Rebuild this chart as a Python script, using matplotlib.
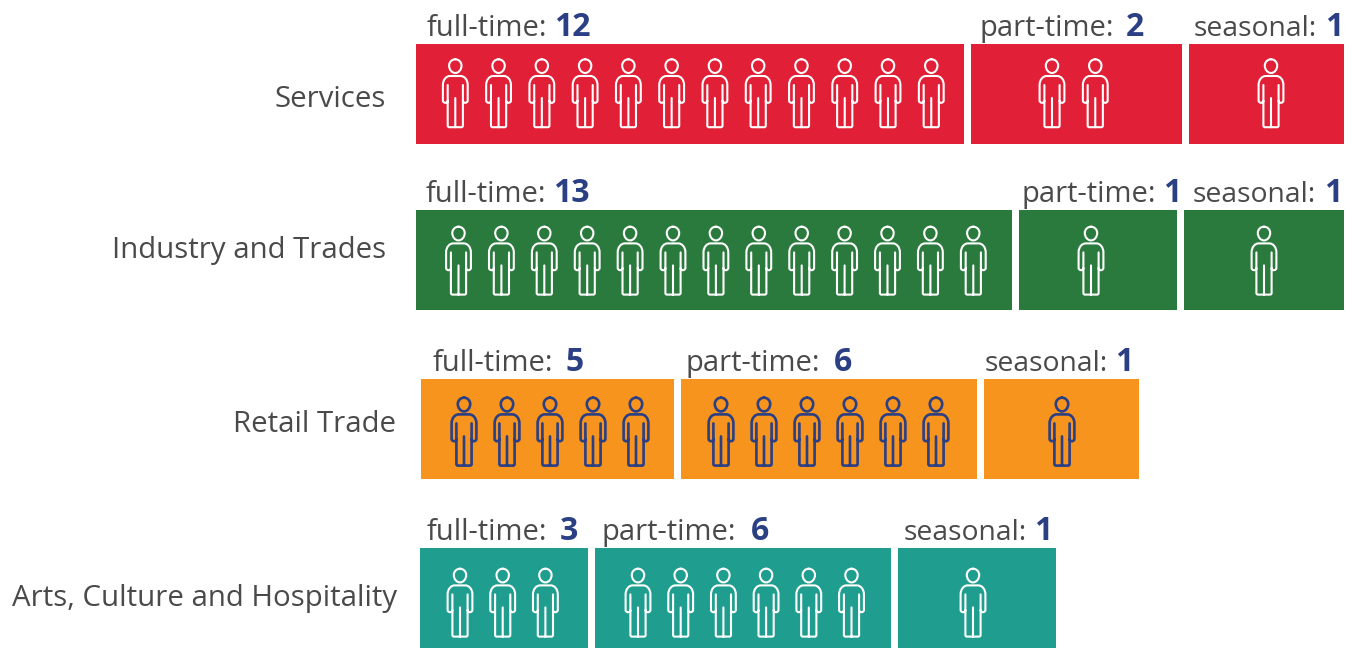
import matplotlib
matplotlib.use("Agg")
import matplotlib.pyplot as plt
from matplotlib.path import Path
from matplotlib.patches import PathPatch, Rectangle
from matplotlib.transforms import Affine2D

# ---- data ----
categories = ["Services", "Industry and Trades", "Retail Trade", "Arts, Culture and Hospitality"]
segments = ["full-time", "part-time", "seasonal"]
full_time = [12, 13, 5, 3]
part_time = [2, 1, 6, 6]
seasonal = [1, 1, 1, 1]

# ---- layout (pixels) ----
bar_lefts = [[416, 971, 1189], [416, 1019, 1184], [421, 681, 984], [420, 595, 898]]
bar_rights = [[964, 1182, 1344], [1012, 1177, 1344], [674, 977, 1139], [588, 891, 1056]]
bar_tops = [44, 210, 379, 548]
first_person = [[455.3, 1052, 1271], [458.5, 1091, 1264], [464, 721, 1062], [460, 638, 973]]
person_step = [43.27, 42.9, 43.0, 42.7]
person_dy = [0, 1.4, 3.4, 5.4]
person_lw = [1.5, 1.5, 1.9, 1.5]
label_x = [[427, 979, 1194], [426, 1022, 1193], [433, 685, 985], [427, 602, 904]]
number_right = [[591, 1144, 1343], [590, 1181, 1342], [584, 852, 1133], [578, 769, 1052]]
cat_right = [386, 386, 396, 397]
cat_base = [107, 258, 432, 606]
bar_colors = ["#E11F36", "#2B7A3D", "#F7941D", "#1F9E8F"]
person_colors = ["white", "white", "#2A3F84", "white"]
NAVY = "#2A3F84"
GREY = "#4A4A4A"
BAR_H = 100
FONT = "Open Sans"
FS_CAT = 21.2
FS_LABEL = [21, 21, 20.4]
FS_NUM = 23

M, L, C3, C4 = Path.MOVETO, Path.LINETO, Path.CURVE3, Path.CURVE4
k = 0.5523
hw, ht, hb, hm = 6.2, 15.3, 29.0, 21.5  # head half-width, top, bottom, widest level
head = [
    (0, ht), (k * hw, ht), (hw, hm - k * (hm - ht)), (hw, hm),
    (hw, hm + k * (hb - hm)), (k * hw, hb), (0, hb),
    (-k * hw, hb), (-hw, hm + k * (hb - hm)), (-hw, hm),
    (-hw, hm - k * (hm - ht)), (-k * hw, ht), (0, ht),
]
lw_, lb = 7.6, 83.2
legs = [(-lw_, 41), (-lw_, lb - 1), (-lw_ + 1, lb), (lw_ - 1, lb), (lw_, lb - 1), (lw_, 41)]
ao, ab = 12.4, 58.8
arm = [
    (lw_, ab - 2), (lw_, ab), (lw_ + 2.2, ab), (ao, ab), (ao, ab - 2.2),
    (ao, 41), (ao, 35.5), (ao - 3.5, 32), (ao - 7, 32),
    (-ao + 7, 32), (-ao + 3.5, 32), (-ao, 35.5), (-ao, 41),
    (-ao, ab - 2.2), (-ao, ab), (-lw_ - 2.2, ab), (-lw_, ab), (-lw_, ab - 2),
]
arm_codes = [M, C3, C3, C3, C3, L, C4, C4, C4, L, C4, C4, C4, L, C3, C3, C3, C3]
PERSON = Path(head + legs + arm + [(0, 54), (0, lb)],
              [M] + [C4] * 12 + [M, L, L, L, L, L] + arm_codes + [M, L])

fig = plt.figure(figsize=(13.52, 6.48), dpi=100, facecolor="white")
ax = fig.add_axes([0, 0, 1, 1])
ax.set_xlim(0, 1352)
ax.set_ylim(648, 0)
ax.axis("off")

for i, cat in enumerate(categories):
    ax.text(cat_right[i], cat_base[i], cat, ha="right", va="baseline",
            fontsize=FS_CAT, color=GREY, family=FONT)
    counts = [full_time[i], part_time[i], seasonal[i]]
    top = bar_tops[i]
    for j, n in enumerate(counts):
        x0, x1 = bar_lefts[i][j], bar_rights[i][j]
        ax.add_patch(Rectangle((x0, top), x1 - x0, BAR_H, fc=bar_colors[i], ec="none"))
        ax.text(label_x[i][j], top - 8, f"{segments[j]}:", ha="left", va="baseline",
                fontsize=FS_LABEL[j], color=GREY, family=FONT)
        ax.text(number_right[i][j], top - 8, str(n), ha="right", va="baseline",
                fontsize=FS_NUM, color=NAVY, family=FONT, fontweight="bold")
        for p in range(n):
            cx = first_person[i][j] + p * person_step[i]
            tr = Affine2D().translate(cx, top + person_dy[i]) + ax.transData
            ax.add_patch(PathPatch(PERSON, transform=tr, fc="none",
                                   ec=person_colors[i], lw=person_lw[i], capstyle="round",
                                   joinstyle="round"))

fig.savefig("out.png", dpi=100, facecolor="white")
